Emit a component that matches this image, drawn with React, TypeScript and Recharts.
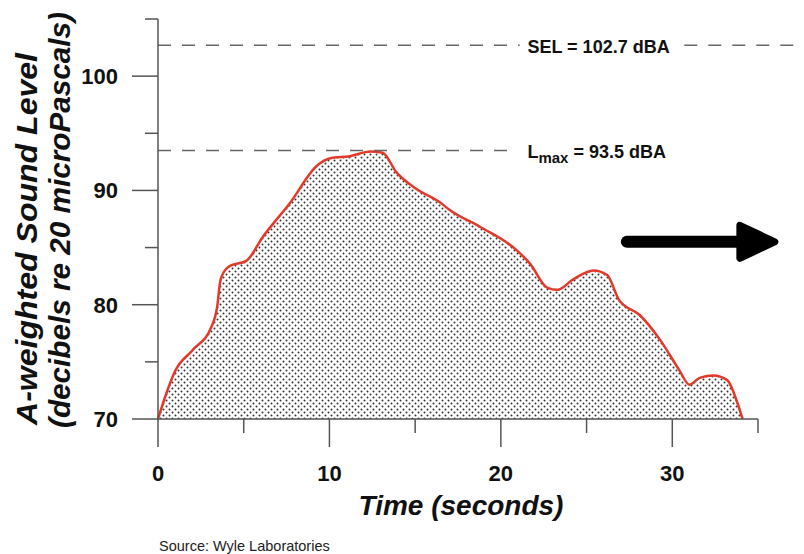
import {
  AreaChart,
  Area,
  XAxis,
  YAxis,
  ReferenceLine,
  ReferenceDot,
} from "recharts";

// time in seconds / A-weighted level in dBA
const time = [
  0, 0.5, 1.0, 2.0, 3.1, 3.45, 3.65, 4.1, 5.2, 6.1, 7.7, 9.3, 10.0, 11.2,
  12.4, 13.1, 13.9, 14.9, 16.5, 17.0, 18.8, 20.9, 21.7, 22.7, 23.3, 24.2,
  25.4, 26.2, 26.9, 28.1, 29.3, 30.4, 31.0, 31.6, 32.4, 33.2, 33.8, 34.1,
];
const level = [
  70, 72.3, 74.2, 76.0, 78.0, 79.8, 82.2, 83.3, 83.9, 85.9, 88.9, 92.2, 92.8,
  93.0, 93.4, 93.3, 91.6, 90.3, 88.9, 88.3, 86.8, 84.8, 83.6, 81.5, 81.3,
  82.2, 83.0, 82.6, 80.4, 79.1, 76.9, 74.3, 73.0, 73.6, 73.8, 73.4, 71.4, 70,
];

const xTicks = [0, 5, 10, 15, 20, 25, 30, 35];
const yTicks = [70, 75, 80, 85, 90, 95, 100, 105];
const selLevel = 102.7;
const lmaxLevel = 93.5;

const data = time.map((t, i) => ({ t, db: level[i] }));

const FONT = "'Liberation Sans', Arial, Helvetica, sans-serif";
const AXIS = "#555";

const XTick = (props: any) => {
  const { x, y, payload } = props;
  const major = payload.value % 10 === 0;
  return (
    <g>
      <line x1={x} x2={x} y1={y} y2={y + (major ? 28 : 14)} stroke={AXIS} strokeWidth={1.5} />
      {major && (
        <text x={x} y={y + 62} textAnchor="middle" fontFamily={FONT} fontWeight="bold" fontSize={22} fill="#111">
          {payload.value}
        </text>
      )}
    </g>
  );
};

const YTick = (props: any) => {
  const { x, y, payload } = props;
  const major = payload.value % 10 === 0;
  return (
    <g>
      <line x1={x} x2={x - (major ? 26 : 13)} y1={y} y2={y} stroke={AXIS} strokeWidth={1.5} />
      {major && (
        <text x={x - 40} y={y + 8} textAnchor="end" fontFamily={FONT} fontWeight="bold" fontSize={22} fill="#111">
          {payload.value}
        </text>
      )}
    </g>
  );
};

const YLabel = () => (
  <g fontFamily={FONT} fontWeight="bold" fontStyle="italic" fontSize={30} fill="#111">
    <text
      x={37}
      y={425}
      transform="rotate(-90 37 425)"
      textAnchor="start"
      textLength={372}
      lengthAdjust="spacingAndGlyphs"
    >
      A-weighted Sound Level
    </text>
    <text
      x={70}
      y={428}
      transform="rotate(-90 70 428)"
      textAnchor="start"
      textLength={416}
      lengthAdjust="spacingAndGlyphs"
    >
      (decibels re 20 microPascals)
    </text>
  </g>
);

const XLabel = () => (
  <g fontFamily={FONT} fill="#111">
    <text x={461} y={515} textAnchor="middle" fontWeight="bold" fontStyle="italic" fontSize={28}>
      Time (seconds)
    </text>
    <text x={159} y={551} fontSize={14.5} fill="#222">
      Source: Wyle Laboratories
    </text>
  </g>
);

const SelText = (p: any) => (
  <text x={p.cx} y={p.cy + 8} fontFamily={FONT} fontWeight="bold" fontSize={18} fill="#111">
    SEL = 102.7 dBA
  </text>
);

const LmaxText = (p: any) => (
  <text x={p.cx} y={p.cy + 8} fontFamily={FONT} fontWeight="bold" fontSize={18} fill="#111">
    L
    <tspan fontSize={15} dy={5}>max</tspan>
    <tspan dy={-5}> = 93.5 dBA</tspan>
  </text>
);

const Arrow = (p: any) => {
  const { cx, cy } = p;
  return (
    <g>
      <line x1={cx + 6} x2={cx + 122} y1={cy} y2={cy} stroke="#000" strokeWidth={12} strokeLinecap="round" />
      <polygon
        points={`${cx + 119},${cy - 16.5} ${cx + 154},${cy} ${cx + 119},${cy + 16.5}`}
        fill="#000"
        stroke="#000"
        strokeWidth={7}
        strokeLinejoin="round"
      />
    </g>
  );
};

export default function App() {
  return (
    <div style={{ position: "absolute", left: 0, top: 0, background: "#fff" }}>
      <AreaChart
        width={804}
        height={554}
        data={data}
        margin={{ top: 19, right: 46, left: 0, bottom: 0 }}
      >
        <defs>
          <pattern id="dots" width="6" height="6" patternUnits="userSpaceOnUse">
            <circle cx="1.5" cy="1.5" r="1" fill="#333" />
            <circle cx="4.5" cy="4.5" r="1" fill="#333" />
          </pattern>
        </defs>
        <XAxis
          dataKey="t"
          type="number"
          domain={[0, 35]}
          ticks={xTicks}
          interval={0}
          height={135}
          tickLine={false}
          tickSize={0}
          tickMargin={0}
          tick={<XTick />}
          axisLine={{ stroke: AXIS, strokeWidth: 1.5 }}
          label={<XLabel />}
        />
        <YAxis
          type="number"
          domain={[70, 105]}
          ticks={yTicks}
          interval={0}
          width={158}
          tickLine={false}
          tickSize={0}
          tickMargin={0}
          tick={<YTick />}
          axisLine={{ stroke: AXIS, strokeWidth: 1.5 }}
          label={<YLabel />}
        />
        <ReferenceLine
          segment={[{ x: 0, y: selLevel }, { x: 21.1, y: selLevel }]}
          stroke="#666"
          strokeWidth={1.5}
          strokeDasharray="13 11"
        />
        <ReferenceLine
          segment={[{ x: 30.7, y: selLevel }, { x: 37.7, y: selLevel }]}
          stroke="#666"
          strokeWidth={1.5}
          strokeDasharray="13 11"
          ifOverflow="visible"
        />
        <ReferenceLine
          segment={[{ x: 0, y: lmaxLevel }, { x: 20.8, y: lmaxLevel }]}
          stroke="#666"
          strokeWidth={1.5}
          strokeDasharray="13 11"
        />
        <Area
          type="monotone"
          dataKey="db"
          stroke="#e3392a"
          strokeWidth={2.5}
          fill="url(#dots)"
          fillOpacity={1}
          isAnimationActive={false}
        />
        <ReferenceDot x={21.55} y={selLevel} r={0} shape={<SelText />} ifOverflow="visible" />
        <ReferenceDot x={21.55} y={lmaxLevel} r={0} shape={<LmaxText />} ifOverflow="visible" />
        <ReferenceDot x={27} y={85.5} r={0} shape={<Arrow />} ifOverflow="visible" />
      </AreaChart>
    </div>
  );
}
